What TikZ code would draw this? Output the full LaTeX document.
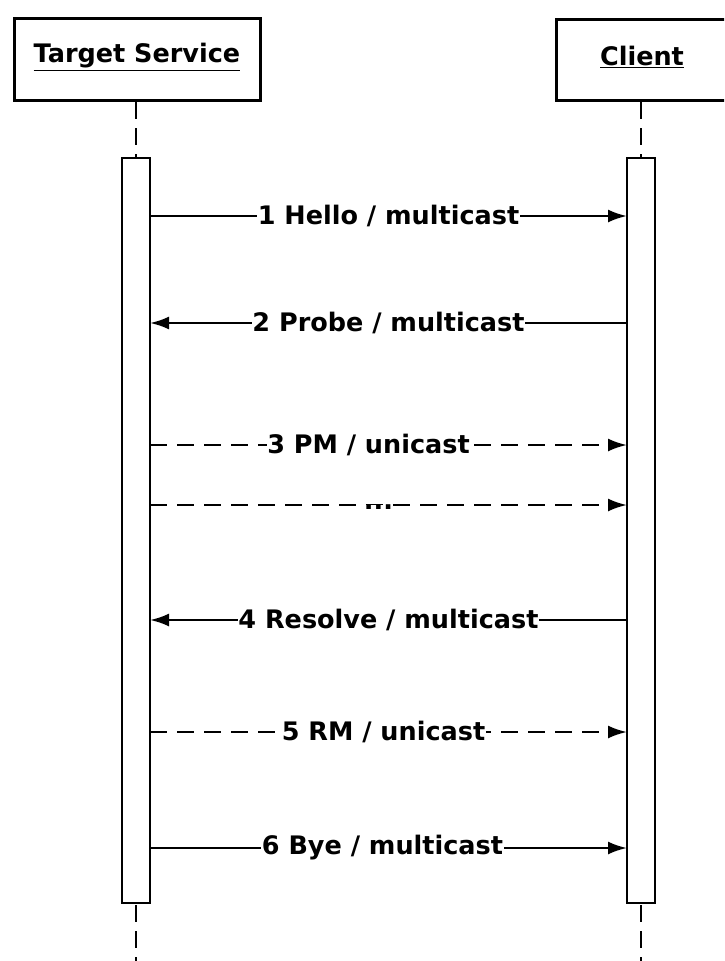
\documentclass[tikz,border=0pt]{standalone}
\usepackage{fontspec}
\setmainfont{DejaVu Sans}
\usetikzlibrary{arrows.meta}
\tikzset{
  actor/.style={draw, line width=3pt, fill=white},
  bar/.style={draw, line width=2.6pt, fill=white},
  life/.style={line width=2.6pt, dash pattern=on 17pt off 9pt},
  msg/.style={line width=2.4pt, -{Latex[length=19pt,width=13pt]}},
  dmsg/.style={msg, dash pattern=on 17pt off 10pt},
  txt/.style={font=\bfseries\fontsize{25.5}{28}\selectfont},
  lbl/.style={txt, fill=white, inner sep=0.5pt}
}
\begin{document}
\begin{tikzpicture}[x=1pt,y=-1pt]
\useasboundingbox (0,0) rectangle (724,961);
\clip (0,0) rectangle (724,961);
% actors
\draw[actor] (14,18) rectangle (260,100);
\node[txt] (ts) at (137,57) {\underline{Target Service}};
\draw[actor] (556,19) rectangle (732,100);
\node[txt] (cl) at (642,57) {\underline{Client}};
% lifelines
\draw[life] (136,102) -- (136,158);
\draw[life] (641,102) -- (641,158);
\draw[life] (136,905) -- (136,961);
\draw[life] (641,905) -- (641,961);
% activation bars
\draw[bar] (122,158) rectangle (150,903);
\draw[bar] (627,158) rectangle (655,903);
% messages
\coordinate (a1) at (150,216); \coordinate (b1) at (627,216);
\coordinate (a2) at (150,323); \coordinate (b2) at (627,323);
\coordinate (a3) at (150,445); \coordinate (b3) at (627,445);
\coordinate (a4) at (150,505); \coordinate (b4) at (627,505);
\coordinate (a5) at (150,620); \coordinate (b5) at (627,620);
\coordinate (a6) at (150,732); \coordinate (b6) at (627,732);
\coordinate (a7) at (150,848); \coordinate (b7) at (627,848);
\draw[msg] (a1) -- node[lbl] {1 Hello / multicast} (b1);
\draw[msg] (b2) -- node[lbl] {2 Probe / multicast} (a2);
\draw[dmsg] (a3) -- node[lbl, xshift=-20pt] {3 PM / unicast} (b3);
\draw[dmsg] (a4) -- node[lbl, xshift=-10pt, yshift=-2pt, inner sep=0pt] {...} (b4);
\draw[msg] (b5) -- node[lbl] {4 Resolve / multicast} (a5);
\draw[dmsg] (a6) -- node[lbl, xshift=-5pt] {5 RM / unicast} (b6);
\draw[msg] (a7) -- node[lbl, xshift=-6pt] {6 Bye / multicast} (b7);
\end{tikzpicture}
\end{document}
